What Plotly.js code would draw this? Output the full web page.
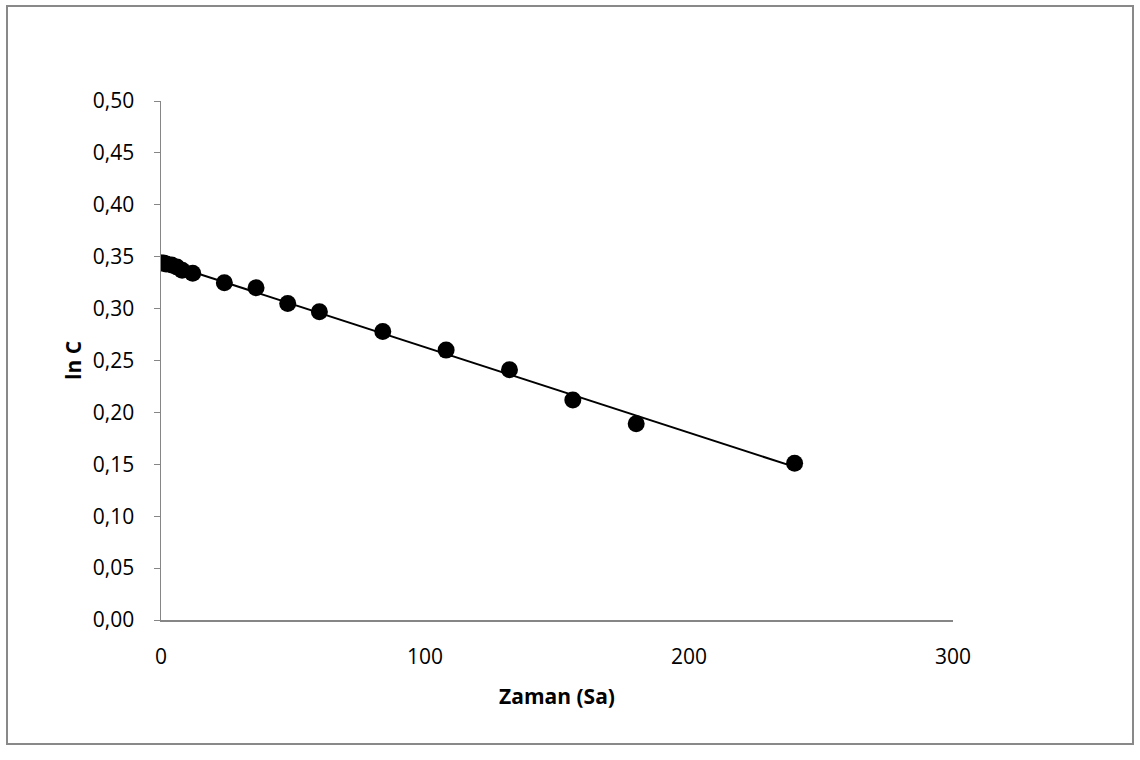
<!DOCTYPE html>
<html>
<head>
<meta charset="utf-8">
<script src="https://cdn.plot.ly/plotly-3.0.1.min.js"></script>
<style>
html,body{margin:0;padding:0;background:#fff;}
#wrap{position:relative;width:1140px;height:760px;}
#chart{position:absolute;left:0;top:0;width:1140px;height:760px;}
#frame{position:absolute;left:6px;top:5px;width:1128px;height:740px;border:2px solid #898989;box-sizing:border-box;pointer-events:none;}
</style>
</head>
<body>
<div id="wrap"><div id="chart"></div><div id="frame"></div></div>
<script>
const timeHours = [0, 1, 2, 4, 6, 8, 12, 24, 36, 48, 60, 84, 108, 132, 156, 180, 240];
const lnC = [0.344, 0.344, 0.343, 0.342, 0.340, 0.337, 0.334, 0.325, 0.320, 0.305, 0.297, 0.278, 0.260, 0.241, 0.212, 0.189, 0.151];
const yTickVals = [0, 0.05, 0.10, 0.15, 0.20, 0.25, 0.30, 0.35, 0.40, 0.45, 0.50];
const xTickVals = [0, 100, 200, 300];

// linear least-squares trendline from the data
const n = timeHours.length;
const mx = timeHours.reduce((a,b)=>a+b,0)/n;
const my = lnC.reduce((a,b)=>a+b,0)/n;
let sxy=0, sxx=0;
for (let i=0;i<n;i++){ sxy += (timeHours[i]-mx)*(lnC[i]-my); sxx += (timeHours[i]-mx)**2; }
const slope = sxy/sxx, icpt = my - slope*mx;
const trendX = [timeHours[0], timeHours[n-1]];
const trendY = trendX.map(x => icpt + slope*x);

const font = "Open Sans, Liberation Sans, sans-serif";
const data = [
  {x: trendX, y: trendY, mode: 'lines', line: {color: '#000', width: 2}, hoverinfo: 'skip', showlegend: false},
  {x: timeHours, y: lnC, mode: 'markers', marker: {color: '#000', size: 17}, showlegend: false}
];
const layout = {
  width: 1140, height: 760,
  margin: {l: 161, r: 187, t: 101, b: 140},
  paper_bgcolor: '#fff', plot_bgcolor: '#fff',
  separators: ',.',
  font: {family: font, size: 21, color: '#000'},
  xaxis: {
    range: [0, 300], tickvals: xTickVals, ticktext: xTickVals.map(String),
    showgrid: false, zeroline: false, showline: true, linecolor: '#868686', linewidth: 1.5,
    ticks: '', ticklabelstandoff: 17, tickfont: {family: font, size: 21, color: '#000'},
    title: {text: '<b>Zaman (Sa)</b>', font: {family: font, size: 21}, standoff: 20}
  },
  yaxis: {
    range: [0, 0.5], tickvals: yTickVals, tickformat: '.2f',
    showgrid: false, zeroline: false, showline: true, linecolor: '#868686', linewidth: 1.5,
    ticks: 'outside', ticklen: 6, tickcolor: '#868686', ticklabelstandoff: 15,
    tickfont: {family: font, size: 21, color: '#000'},
    title: {text: '<b>ln C</b>', font: {family: font, size: 21}, standoff: 5}
  }
};
Plotly.newPlot('chart', data, layout, {displayModeBar: false, staticPlot: true});
</script>
</body>
</html>
